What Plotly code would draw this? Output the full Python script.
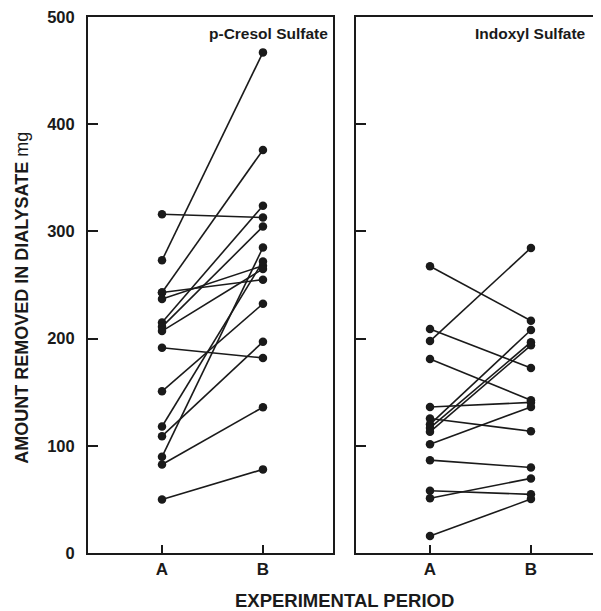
import plotly.graph_objects as go

periods = ["A", "B"]

# p-Cresol Sulfate (mg), paired A -> B
cresol_A = [316, 273, 243, 243, 237, 215, 211, 207, 191.5, 150.8, 118, 109, 89.7, 82.6, 50]
cresol_B = [313, 467, 376, 255, 268, 324, 304.5, 265, 182, 232.5, 272, 197, 285, 136, 78]

# Indoxyl Sulfate (mg), paired A -> B
indoxyl_A = [267.5, 209, 197.7, 181, 136.2, 125.4, 120, 116.7, 113, 101.5, 86.6, 58, 51, 15.8]
indoxyl_B = [216.7, 172.5, 284.6, 142.5, 140.5, 113.6, 208, 196.7, 193.7, 136.2, 79.8, 54.7, 69.6, 50.3]

y_ticks = [0, 100, 200, 300, 400, 500]
panel_titles = ["p-Cresol Sulfate", "Indoxyl Sulfate"]

FONT = "Arial, Liberation Sans, Helvetica, sans-serif"
INK = "#1a1a1a"

fig = go.Figure()

def add_pairs(a_vals, b_vals, xa, ya):
    for a, b in zip(a_vals, b_vals):
        fig.add_trace(go.Scatter(
            x=periods, y=[a, b], mode="lines+markers",
            line=dict(color=INK, width=1.6),
            marker=dict(color=INK, size=8.5),
            xaxis=xa, yaxis=ya, showlegend=False, hoverinfo="y"))

add_pairs(cresol_A, cresol_B, "x", "y")
add_pairs(indoxyl_A, indoxyl_B, "x2", "y2")

xr = [-0.733, 1.694]
common_x = dict(type="category", range=xr, showline=True, linecolor=INK, linewidth=2,
                mirror=True, ticks="inside", ticklen=8, tickwidth=1.5, tickcolor=INK,
                showgrid=False, zeroline=False, automargin=False,
                tickfont=dict(family=FONT, size=17, color=INK, weight="bold"))

fig.update_layout(
    width=593, height=603,
    margin=dict(l=80, r=0, t=9, b=58, autoexpand=False),
    paper_bgcolor="white", plot_bgcolor="white",
    xaxis=dict(domain=[0, 0.4776], **common_x),
    xaxis2=dict(domain=[0.5224, 1.0], anchor="y2", **common_x),
    yaxis=dict(range=[0, 500], tickvals=y_ticks, showline=True, linecolor=INK, linewidth=2,
               mirror=True, ticks="inside", ticklen=10, tickwidth=1.5, tickcolor=INK,
               showgrid=False, zeroline=False, ticklabelstandoff=8, automargin=False,
               ticklabeloverflow="allow",
               tickfont=dict(family=FONT, size=16.5, color=INK, weight="bold")),
    yaxis2=dict(range=[0, 500], tickvals=y_ticks, anchor="x2", showline=True, linecolor=INK,
                linewidth=2, mirror=False, ticks="inside", ticklen=10, tickwidth=1.5,
                tickcolor=INK, showgrid=False, zeroline=False, showticklabels=False,
                automargin=False),
    annotations=[
        dict(text="<b>AMOUNT REMOVED IN DIALYSATE</b> mg", textangle=-90,
             xref="paper", yref="paper", x=-0.1287, y=0.476, xanchor="center",
             yanchor="middle", showarrow=False,
             font=dict(family=FONT, size=18, color=INK)),
        dict(text="<b>" + panel_titles[0] + "</b>", xref="x domain", yref="y domain",
             x=0.988, y=0.988, xanchor="right", yanchor="top", showarrow=False,
             font=dict(family=FONT, size=15.5, color=INK)),
        dict(text="<b>" + panel_titles[1] + "</b>", xref="x2 domain", yref="y2 domain",
             x=0.947, y=0.988, xanchor="right", yanchor="top", showarrow=False,
             font=dict(family=FONT, size=15.5, color=INK)),
        dict(text="<b>EXPERIMENTAL PERIOD</b>", xref="paper", yref="paper",
             x=0.5, y=-0.0877, xanchor="center", yanchor="middle", showarrow=False,
             font=dict(family=FONT, size=18.5, color=INK)),
    ],
)

fig.write_html("out.html")
